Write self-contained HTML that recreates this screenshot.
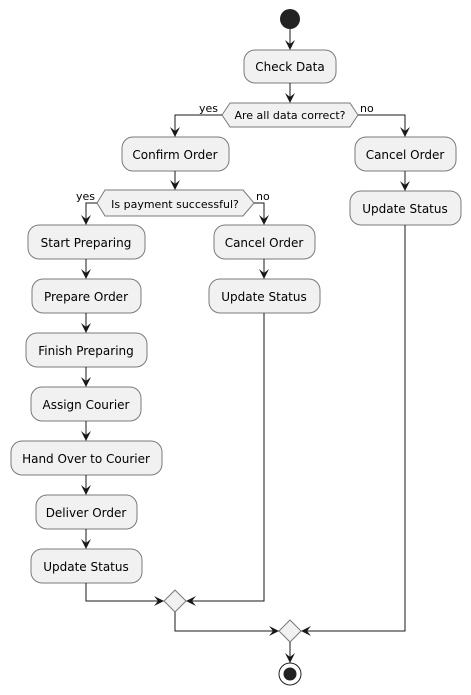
<!DOCTYPE html>
<html><head><meta charset="utf-8"><style>
html,body{margin:0;padding:0;background:#fff;}
svg{display:block;}
text{font-family:"DejaVu Sans","Liberation Sans",sans-serif;fill:#000;}
.b{fill:#F1F1F1;stroke:#7a7a7a;stroke-width:1;}
.l{stroke:#181818;stroke-width:1;fill:none;}
.a{fill:#181818;stroke:none;}
</style></head><body>
<svg width="471" height="695" viewBox="0 0 471 695" xmlns="http://www.w3.org/2000/svg">
<!-- start -->
<circle cx="290" cy="19" r="10" fill="#222"/>
<line class="l" x1="290" y1="29" x2="290" y2="50"/>
<polygon class="a" points="285,40 290,50 295,40 290,44"/>
<!-- Check Data -->
<rect class="b" x="244" y="50" width="92" height="33" rx="11"/>
<text x="290" y="71" font-size="12" text-anchor="middle">Check Data</text>
<line class="l" x1="290" y1="83" x2="290" y2="103"/>
<polygon class="a" points="285,93 290,103 295,93 290,97"/>
<!-- Diamond 1 -->
<polygon class="b" points="222,115 230,103 350,103 358,115 350,127 230,127"/>
<text x="290" y="119" font-size="11" text-anchor="middle">Are all data correct?</text>
<text x="199" y="112" font-size="11">yes</text>
<text x="360" y="112" font-size="11">no</text>
<polyline class="l" points="222,115 175,115 175,137"/>
<polygon class="a" points="170,127 175,137 180,127 175,131"/>
<polyline class="l" points="358,115 405,115 405,137"/>
<polygon class="a" points="400,127 405,137 410,127 405,131"/>
<!-- Confirm Order -->
<rect class="b" x="122" y="137" width="107" height="34" rx="11"/>
<text x="175" y="159" font-size="12" text-anchor="middle">Confirm Order</text>
<line class="l" x1="175" y1="171" x2="175" y2="190"/>
<polygon class="a" points="170,180 175,190 180,180 175,184"/>
<!-- Right Cancel/Update -->
<rect class="b" x="355" y="137" width="101" height="34" rx="11"/>
<text x="405" y="159" font-size="12" text-anchor="middle">Cancel Order</text>
<line class="l" x1="405" y1="171" x2="405" y2="191"/>
<polygon class="a" points="400,181 405,191 410,181 405,185"/>
<rect class="b" x="350" y="191" width="111" height="34" rx="11"/>
<text x="405" y="213" font-size="12" text-anchor="middle">Update Status</text>
<polyline class="l" points="405,225 405,631 301,631"/>
<polygon class="a" points="311,626 301,631 311,636 307,631"/>
<!-- Diamond 2 -->
<polygon class="b" points="97,203 105,190 243,190 254,203 243,216 105,216"/>
<text x="175" y="208" font-size="11" text-anchor="middle">Is payment successful?</text>
<text x="76" y="200" font-size="11">yes</text>
<text x="256" y="200" font-size="11">no</text>
<polyline class="l" points="97,203 86,203 86,225"/>
<polygon class="a" points="81,215 86,225 91,215 86,219"/>
<polyline class="l" points="254,203 264,203 264,225"/>
<polygon class="a" points="259,215 264,225 269,215 264,219"/>
<!-- mid column -->
<rect class="b" x="214" y="225" width="101" height="34" rx="11"/>
<text x="264" y="247" font-size="12" text-anchor="middle">Cancel Order</text>
<line class="l" x1="264" y1="259" x2="264" y2="279"/>
<polygon class="a" points="259,269 264,279 269,269 264,273"/>
<rect class="b" x="209" y="279" width="111" height="34" rx="11"/>
<text x="264" y="301" font-size="12" text-anchor="middle">Update Status</text>
<polyline class="l" points="264,313 264,601 186,601"/>
<polygon class="a" points="196,596 186,601 196,606 192,601"/>
<!-- left column -->
<rect class="b" x="28" y="225" width="117" height="34" rx="11"/>
<text x="86" y="247" font-size="12" text-anchor="middle">Start Preparing</text>
<line class="l" x1="86" y1="259" x2="86" y2="279"/>
<polygon class="a" points="81,269 86,279 91,269 86,273"/>
<rect class="b" x="32" y="279" width="109" height="34" rx="11"/>
<text x="86" y="301" font-size="12" text-anchor="middle">Prepare Order</text>
<line class="l" x1="86" y1="313" x2="86" y2="333"/>
<polygon class="a" points="81,323 86,333 91,323 86,327"/>
<rect class="b" x="26" y="333" width="121" height="34" rx="11"/>
<text x="86" y="355" font-size="12" text-anchor="middle">Finish Preparing</text>
<line class="l" x1="86" y1="367" x2="86" y2="387"/>
<polygon class="a" points="81,377 86,387 91,377 86,381"/>
<rect class="b" x="31" y="387" width="110" height="34" rx="11"/>
<text x="86" y="409" font-size="12" text-anchor="middle">Assign Courier</text>
<line class="l" x1="86" y1="421" x2="86" y2="441"/>
<polygon class="a" points="81,431 86,441 91,431 86,435"/>
<rect class="b" x="11" y="441" width="151" height="34" rx="11"/>
<text x="86" y="463" font-size="12" text-anchor="middle">Hand Over to Courier</text>
<line class="l" x1="86" y1="475" x2="86" y2="495"/>
<polygon class="a" points="81,485 86,495 91,485 86,489"/>
<rect class="b" x="36" y="495" width="101" height="34" rx="11"/>
<text x="86" y="517" font-size="12" text-anchor="middle">Deliver Order</text>
<line class="l" x1="86" y1="529" x2="86" y2="549"/>
<polygon class="a" points="81,539 86,549 91,539 86,543"/>
<rect class="b" x="31" y="549" width="111" height="34" rx="11"/>
<text x="86" y="571" font-size="12" text-anchor="middle">Update Status</text>
<polyline class="l" points="86,583 86,601 164,601"/>
<polygon class="a" points="154,596 164,601 154,606 158,601"/>
<!-- merge 1 -->
<polygon class="b" points="175,590 186,601 175,612 164,601"/>
<polyline class="l" points="175,612 175,631 279,631"/>
<polygon class="a" points="269,626 279,631 269,636 273,631"/>
<!-- merge 2 -->
<polygon class="b" points="290,620 301,631 290,642 279,631"/>
<line class="l" x1="290" y1="642" x2="290" y2="663"/>
<polygon class="a" points="285,653 290,663 295,653 290,657"/>
<!-- end -->
<circle cx="290" cy="674" r="11" fill="none" stroke="#222" stroke-width="1"/>
<circle cx="290" cy="674" r="6.5" fill="#222"/>
</svg>
</body></html>
